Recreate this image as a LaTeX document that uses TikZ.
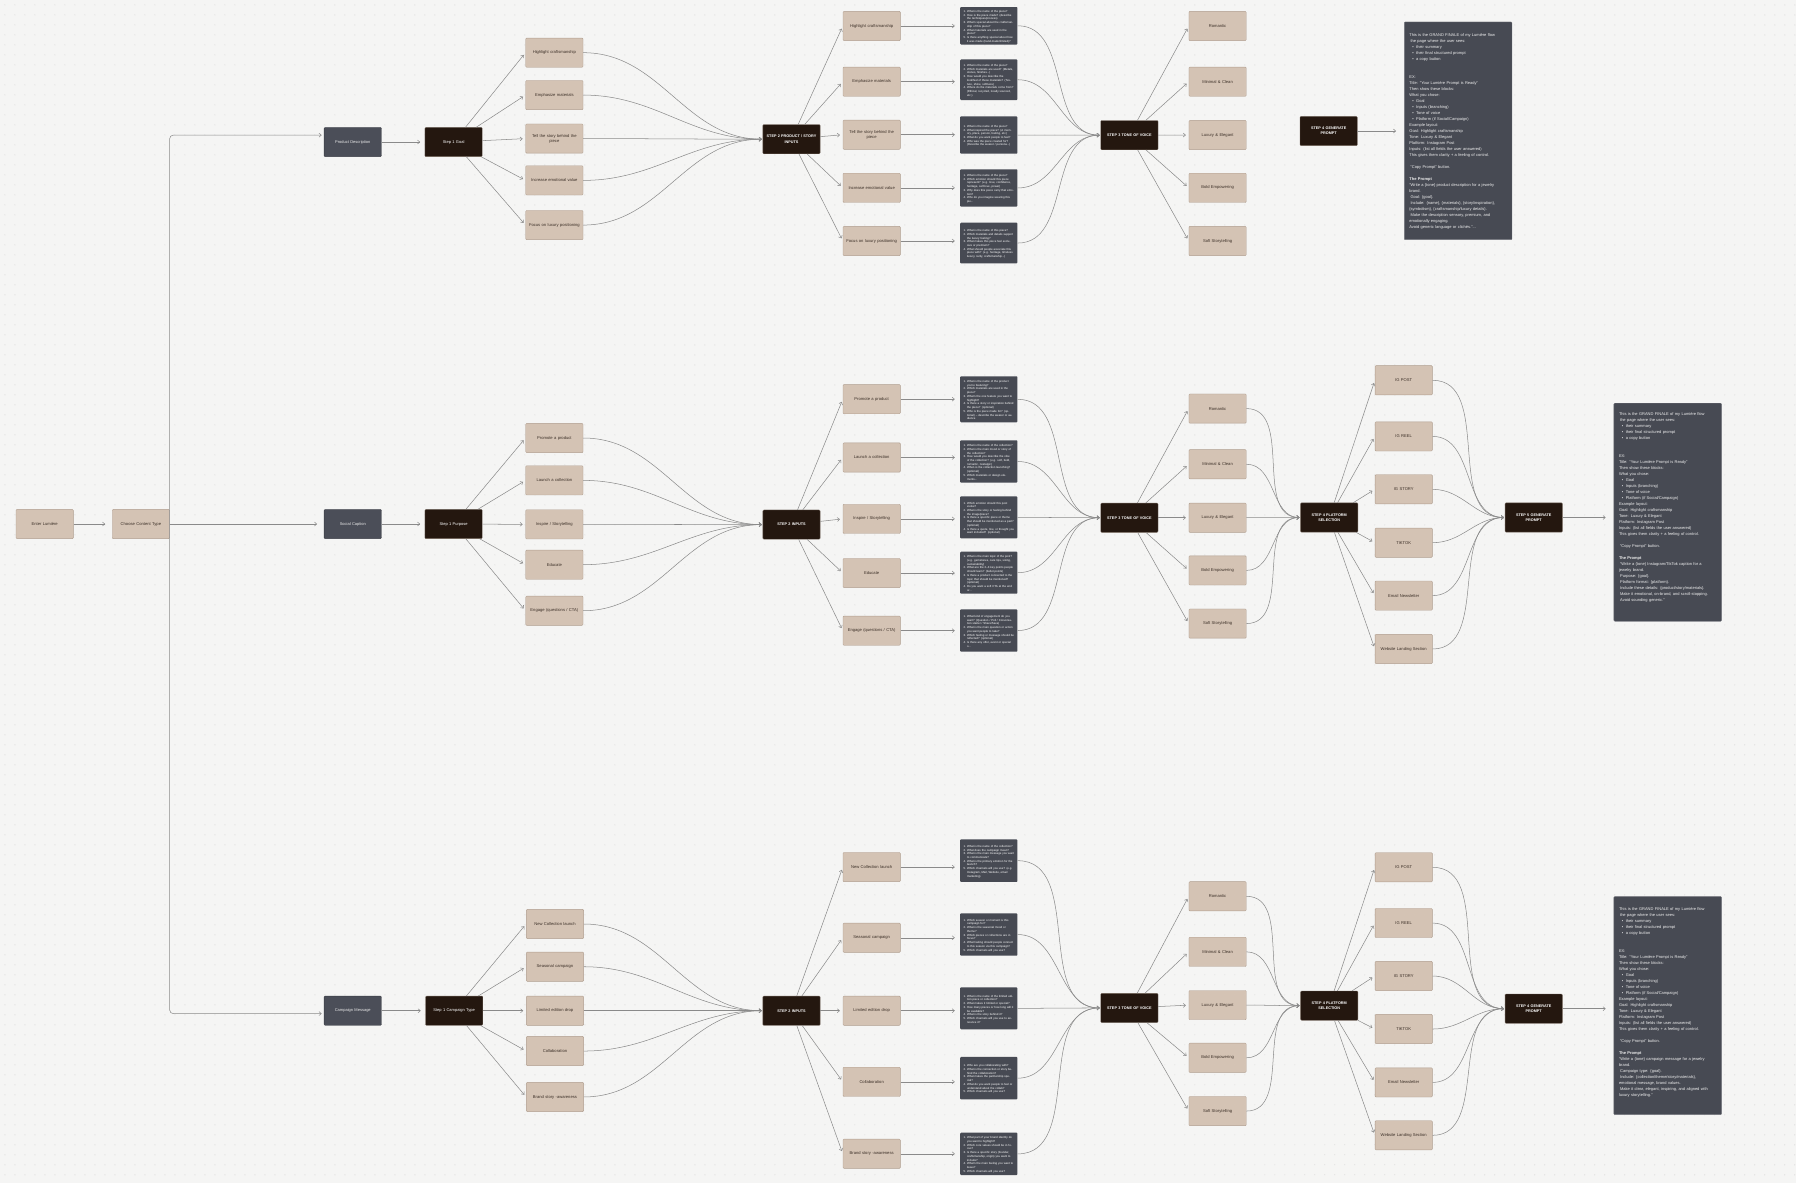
\documentclass[tikz,border=0pt]{standalone}
\usepackage{fontspec}
\setmainfont{Liberation Sans}
\usetikzlibrary{arrows.meta}
\definecolor{bg}{HTML}{F5F5F4}
\definecolor{dotc}{HTML}{C8C8C8}
\definecolor{tanf}{HTML}{D4C3B4}
\definecolor{tanb}{HTML}{B09E8F}
\definecolor{tant}{HTML}{3A2E26}
\definecolor{brownf}{HTML}{24170F}
\definecolor{slatef}{HTML}{4B4E58}
\definecolor{qf}{HTML}{474A53}
\definecolor{lineg}{HTML}{8A8A8A}
\newcommand{\qi}[2]{\par\noindent\hangindent=3pt\hangafter=1\makebox[3pt][l]{#1}#2\par}
\newcommand{\bul}{\hspace*{2.5pt}•\hspace{2.2pt}}
\newcommand{\finalehead}{This is the GRAND FINALE of my Lumière flow\\
\hspace*{1pt}the page where the user sees:\\
\bul their summary\\
\bul their final structured prompt\\
\bul a copy button\\[10.48pt]
EX:\\
Title: “Your Lumière Prompt is Ready”\\
Then show these blocks:\\
What you chose:\\
\bul Goal\\
\bul Inputs (branching)\\
\bul Tone of voice\\
\bul Platform (if Social/Campaign)\\
Example layout:\\
Goal: Highlight craftsmanship\\
Tone: Luxury \& Elegant\\
Platform: Instagram Post\\
Inputs: (list all fields the user answered)\\
This gives them clarity + a feeling of control.\\[5.24pt]
\hspace*{1pt}“Copy Prompt” button.\\[5.24pt]
\textbf{The Prompt}\\}
\tikzset{
 base/.style={rectangle, rounded corners=0.8pt, minimum width=50pt, minimum height=25.5pt, inner sep=1pt, align=center, text width=48pt},
 tanbox/.style={base, fill=tanf, draw=tanb, line width=0.35pt, text=tant, font=\fontsize{3.6}{4.4}\selectfont},
 darkbox/.style={base, fill=brownf, draw=tanf!45!brownf, line width=0.3pt, text=white, font=\fontsize{3.5}{4.3}\selectfont},
 stepbox/.style={darkbox, font=\bfseries\fontsize{3.3}{4.4}\selectfont},
 slatebox/.style={base, fill=slatef, draw=slatef!80!black, line width=0.3pt, text=white!92!black, font=\fontsize{3.5}{4.3}\selectfont},
 qbox/.style={rectangle, rounded corners=0.8pt, fill=qf, text=white, minimum width=50pt, text width=44pt, inner xsep=3pt, inner ysep=1.5pt, align=left, font=\fontsize{2.5}{3.25}\selectfont},
 bigbox/.style={rectangle, rounded corners=0.8pt, fill=qf, draw=qf!80!white, line width=0.3pt, minimum width=94pt, inner sep=0pt},
 bigtext/.style={anchor=north west, inner sep=0pt, text width=90pt, align=left, text=white!94!black, font=\fontsize{3.5}{5.24}\selectfont},
 arr/.style={draw=lineg, line width=0.45pt, -{Straight Barb[length=2pt,width=3.4pt]}, shorten >=2pt},
 carr/.style={arr, shorten >=0.8pt},
}
\begin{document}
\begin{tikzpicture}[x=1pt,y=-1pt]
\useasboundingbox (0,0) rectangle (1568,1033);
\fill[bg] (0,0) rectangle (1568,1033);
\foreach \j in {0,...,118}
  \draw[dotc, line width=0.85pt, line cap=round, dash pattern=on 0pt off 8.73pt] (4.3,{4.3+\j*8.73}) -- (1568,{4.3+\j*8.73});

% ---------------- left column ----------------
\node[tanbox] (enter) at (39,457.5) {Enter Lumière};
\node[tanbox] (cct) at (123,457.5) {Choose Content Type};
\node[slatebox] (pd) at (308,124) {Product Description};
\node[slatebox] (sc) at (308,457.5) {Social Caption};
\node[slatebox] (cm) at (308,882.4) {Campaign Message};
\draw[arr, shorten >=6pt] (enter) -- (cct);
\draw[arr, shorten >=6pt] (cct.east) -- (sc.west);
\draw[arr, rounded corners=3pt, shorten >=2pt] (cct.east) |- ([yshift=6pt]pd.west);
\draw[arr, rounded corners=3pt, shorten >=2pt] (cct.east) |- ([yshift=-2.5pt]cm.west);

% ================= ROW 1 =================
\node[darkbox] (g1) at (396,124) {Step 1 Goal};
\draw[arr, shorten >=4pt] (pd) -- (g1);
\node[tanbox] (a1) at (484,46) {Highlight craftsmanship};
\node[tanbox] (a2) at (484,83) {Emphasize materials};
\node[tanbox] (a3) at (484,121) {Tell the story behind the\\piece};
\node[tanbox] (a4) at (484,157.5) {Increase emotional value};
\node[tanbox] (a5) at (484,196.5) {Focus on luxury positioning};
\node[stepbox] (s2a) at (691,121.5) {STEP 2 PRODUCT / STORY\\INPUTS};
\foreach \n in {a1,a2,a3,a4,a5} {
  \draw[arr, shorten >=2.5pt] (g1) -- (\n.west);
  \draw[carr] (\n.east) to[out=0,in=180] (s2a.west);
}
\node[tanbox] (b1) at (761,22.7) {Highlight craftsmanship};
\node[tanbox] (b2) at (761,71.3) {Emphasize materials};
\node[tanbox] (b3) at (761,117.6) {Tell the story behind the\\piece};
\node[tanbox] (b4) at (761,164) {Increase emotional value};
\node[tanbox] (b5) at (761,210.4) {Focus on luxury positioning};
\node[qbox, minimum height=32.3pt] (qa1) at (863.3,22.5) {%
\qi{1.}{What is the name of the piece?}
\qi{2.}{How is the piece made? (describe the techniques/process)}
\qi{3.}{What's special about the craftsmanship of this piece?}
\qi{4.}{What materials are used in the piece?}
\qi{5.}{Is there anything special about how it was made (hand-made/limited)?}};
\node[qbox, minimum height=35.5pt] (qa2) at (863.3,69.6) {%
\qi{1.}{What is the name of the piece?}
\qi{2.}{Which materials are used? (Metals, stones, finishes...)}
\qi{3.}{How would you describe the look/feel of these materials? (Texture, shine, softness)}
\qi{4.}{Where do the materials come from? (Ethical, recycled, locally sourced, etc.)}};
\node[qbox, minimum height=32.6pt] (qa3) at (863.3,117.9) {%
\qi{1.}{What is the name of the piece?}
\qi{2.}{What inspired the piece? (A memory, place, person, feeling, etc.)}
\qi{3.}{What do you want people to feel?}
\qi{4.}{Who was the piece created for? (Describe the wearer / persona...)}};
\node[qbox, minimum height=32.6pt] (qa4) at (863.3,164.1) {%
\qi{1.}{What is the name of the piece?}
\qi{2.}{Which emotion should this piece represent? (e.g. love, confidence, heritage, self-love, power)}
\qi{3.}{Why does this piece carry that emotion?}
\qi{4.}{Who do you imagine wearing this pie...}};
\node[qbox, minimum height=35.5pt] (qa5) at (863.3,212.2) {%
\qi{1.}{What is the name of this piece?}
\qi{2.}{Which materials and details support the luxury feeling?}
\qi{3.}{What makes this piece feel exclusive or premium?}
\qi{4.}{What should people associate this piece with? (e.g. heritage, timeless luxury, rarity, craftsmanship...)}};
\node[stepbox] (s3a) at (986,118) {STEP 3 TONE OF VOICE};
\foreach \b/\q in {b1/qa1,b2/qa2,b3/qa3,b4/qa4,b5/qa5} {
  \draw[arr, shorten >=2.5pt] (s2a) -- (\b.west);
  \draw[arr, shorten >=4.5pt] (\b.east) -- (\b.east -| \q.west);
  \draw[carr] (\q.east) to[out=0,in=180] (s3a.west);
}
\node[tanbox] (ta1) at (1063,22.7) {Romantic};
\node[tanbox] (ta2) at (1063,71.3) {Minimal \& Clean};
\node[tanbox] (ta3) at (1063,117.9) {Luxury \& Elegant};
\node[tanbox] (ta4) at (1063,164) {Bold Empowering};
\node[tanbox] (ta5) at (1063,210.4) {Soft Storytelling};
\foreach \n in {ta1,ta2,ta3,ta4,ta5}
  \draw[arr, shorten >=2.5pt] (s3a) -- (\n.west);
\node[stepbox] (s4a) at (1160,114.4) {STEP 4 GENERATE\\PROMPT};
\node[bigbox, minimum height=190.1pt] (fa) at (1273,114.25) {};
\draw[arr, shorten >=7pt] (s4a) -- (fa.west |- s4a.east);
\node[bigtext] (fat) at ([xshift=4.4pt,yshift=-9.8pt]fa.north west) {\finalehead
“Write a \{tone\} product description for a jewelry\\
brand.\\
\hspace*{1pt}Goal: \{goal\}.\\
\hspace*{1pt}Include: \{name\}, \{materials\}, \{story/inspiration\},\\
\{symbolism\}, \{craftsmanship/luxury details\}.\\
\hspace*{1pt}Make the description sensory, premium, and\\
emotionally engaging.\\
Avoid generic language or clichés.”...};

% ================= ROW 2 =================
\node[darkbox] (p1) at (396,457.5) {Step 1 Purpose};
\draw[arr, shorten >=4pt] (sc) -- (p1);
\node[tanbox] (c1) at (484,382.4) {Promote a product};
\node[tanbox] (c2) at (484,419.4) {Launch a collection};
\node[tanbox] (c3) at (484,457.8) {Inspire / Storytelling};
\node[tanbox] (c4) at (484,493) {Educate};
\node[tanbox] (c5) at (484,533.2) {Engage (questions / CTA)};
\node[stepbox] (s2b) at (691,458) {STEP 2 INPUTS};
\foreach \n in {c1,c2,c3,c4,c5} {
  \draw[arr, shorten >=2.5pt] (p1) -- (\n.west);
  \draw[carr] (\n.east) to[out=0,in=180] (s2b.west);
}
\node[tanbox] (d1) at (761,348.5) {Promote a product};
\node[tanbox] (d2) at (761,399.4) {Launch a collection};
\node[tanbox] (d3) at (761,453) {Inspire / Storytelling};
\node[tanbox] (d4) at (761,500.3) {Educate};
\node[tanbox] (d5) at (761,550.6) {Engage (questions / CTA)};
\node[qbox, minimum height=40.2pt] (qb1) at (863.3,348.6) {%
\qi{1.}{What is the name of the product you're featuring?}
\qi{2.}{Which materials are used in the piece?}
\qi{3.}{What's the one feature you want to highlight?}
\qi{4.}{Is there a story or inspiration behind the piece? (optional)}
\qi{5.}{Who is the piece made for? (optional) – describe the wearer or audience}};
\node[qbox, minimum height=37pt] (qb2) at (863.3,402.9) {%
\qi{1.}{What is the name of the collection?}
\qi{2.}{What is the main mood or story of the collection?}
\qi{3.}{How would you describe the vibe of the collection? (e.g. soft, bold, romantic, nostalgic)}
\qi{4.}{When is the collection launching? (optional)}
\qi{5.}{Which materials or design elements...}};
\node[qbox, minimum height=36.7pt] (qb3) at (863.3,451.7) {%
\qi{1.}{Which emotion should this post evoke?}
\qi{2.}{What is the story or feeling behind the image/piece?}
\qi{3.}{Is there a specific piece or theme that should be mentioned as a part? (optional)}
\qi{4.}{Is there a quote, line, or thought you want included? (optional)}};
\node[qbox, minimum height=36.7pt] (qb4) at (863.3,500) {%
\qi{1.}{What is the main topic of the post? (e.g. gemstones, care tips, sizing, sustainability)}
\qi{2.}{What are the 2–3 key points people should learn? (bullet points)}
\qi{3.}{Is there a product connected to the topic that should be mentioned? (optional)}
\qi{4.}{Do you want a soft CTA at the end or...}};
\node[qbox, minimum height=37pt] (qb5) at (863.3,550.5) {%
\qi{1.}{What kind of engagement do you want? (Question / Poll / Conversation starter / Share/Save)}
\qi{2.}{What is the main question or action you want people to take?}
\qi{3.}{Which feeling or message should be reflected? (optional)}
\qi{4.}{Is there any offer, event or special o...}};
\node[stepbox] (s3b) at (986,452) {STEP 3 TONE OF VOICE};
\foreach \b/\q in {d1/qb1,d2/qb2,d3/qb3,d4/qb4,d5/qb5} {
  \draw[arr, shorten >=2.5pt] (s2b) -- (\b.west);
  \draw[arr, shorten >=4.5pt] (\b.east) -- (\b.east -| \q.west);
  \draw[carr] (\q.east) to[out=0,in=180] (s3b.west);
}
\node[tanbox] (tb1) at (1063,356.7) {Romantic};
\node[tanbox] (tb2) at (1063,405.3) {Minimal \& Clean};
\node[tanbox] (tb3) at (1063,452) {Luxury \& Elegant};
\node[tanbox] (tb4) at (1063,498) {Bold Empowering};
\node[tanbox] (tb5) at (1063,544.4) {Soft Storytelling};
\node[stepbox] (s4b) at (1160.5,451.8) {STEP 4 PLATFORM\\SELECTION};
\foreach \n in {tb1,tb2,tb3,tb4,tb5} {
  \draw[arr, shorten >=2.5pt] (s3b) -- (\n.west);
  \draw[carr] (\n.east) to[out=0,in=180] (s4b.west);
}
\node[tanbox] (pb1) at (1225.5,332) {IG POST};
\node[tanbox] (pb2) at (1225.5,381) {IG REEL};
\node[tanbox] (pb3) at (1225.5,427.2) {IG STORY};
\node[tanbox] (pb4) at (1225.5,473.8) {TIKTOK};
\node[tanbox] (pb5) at (1225.5,520) {Email Newsletter};
\node[tanbox] (pb6) at (1225.5,566.6) {Website Landing Section};
\node[stepbox] (s5b) at (1339,451.8) {STEP 5 GENERATE\\PROMPT};
\foreach \n in {pb1,pb2,pb3,pb4,pb5,pb6} {
  \draw[arr, shorten >=2.5pt] (s4b) -- (\n.west);
  \draw[carr] (\n.east) to[out=0,in=180] (s5b.west);
}
\node[bigbox, minimum height=190.4pt] (fb) at (1456,447.2) {};
\draw[arr, shorten >=7pt] (s5b) -- (fb.west |- s5b.east);
\node[bigtext] (fbt) at ([xshift=4.4pt,yshift=-7.8pt]fb.north west) {\finalehead
\hspace*{1pt}“Write a \{tone\} Instagram/TikTok caption for a\\
jewelry brand.\\
\hspace*{1pt}Purpose: \{goal\}.\\
\hspace*{1pt}Platform format: \{platform\}.\\
\hspace*{1pt}Include these details: \{product/story/materials\}.\\
\hspace*{1pt}Make it emotional, on-brand, and scroll-stopping.\\
\hspace*{1pt}Avoid sounding generic.”};

% ================= ROW 3 =================
\node[darkbox] (ct) at (396.5,882.4) {Step 1 Campaign Type};
\draw[arr, shorten >=4pt] (cm) -- (ct);
\node[tanbox] (e1) at (484.5,806.7) {New Collection launch};
\node[tanbox] (e2) at (484.5,844) {Seasonal campaign};
\node[tanbox] (e3) at (484.5,882.4) {Limited edition drop};
\node[tanbox] (e4) at (484.5,917.6) {Collaboration};
\node[tanbox] (e5) at (484.5,957.7) {Brand story -awareness};
\node[stepbox] (s2c) at (691,882.4) {STEP 2 INPUTS};
\foreach \n in {e1,e2,e3,e4,e5} {
  \draw[arr, shorten >=2.5pt] (ct) -- (\n.west);
  \draw[carr] (\n.east) to[out=0,in=180] (s2c.west);
}
\node[tanbox] (f1) at (761,757) {New Collection launch};
\node[tanbox] (f2) at (761,818.7) {Seasonal campaign};
\node[tanbox] (f3) at (761,882.4) {Limited edition drop};
\node[tanbox] (f4) at (761,944.5) {Collaboration};
\node[tanbox] (f5) at (761,1007.3) {Brand story -awareness};
\node[qbox, minimum height=37.2pt] (qc1) at (863.3,751.4) {%
\qi{1.}{What is the name of the collection?}
\qi{2.}{What does the campaign mean?}
\qi{3.}{What is the main message you want to communicate?}
\qi{4.}{What is the primary emotion for the launch?}
\qi{5.}{Which channels will you use? (e.g. Instagram, Mail, Website, email marketing)}};
\node[qbox, minimum height=37pt] (qc2) at (863.3,815.9) {%
\qi{1.}{Which season or moment is this campaign for?}
\qi{2.}{What is the seasonal mood or theme?}
\qi{3.}{Which pieces or collections are in focus?}
\qi{4.}{What feeling should people connect to this season via this campaign?}
\qi{5.}{Which channels will you use?}};
\node[qbox, minimum height=36.6pt] (qc3) at (863.3,880.3) {%
\qi{1.}{What is the name of the limited edition piece or collection?}
\qi{2.}{What makes it limited or special?}
\qi{3.}{How many pieces or how long will it be available?}
\qi{4.}{What is the story behind it?}
\qi{5.}{Which channels will you use to announce it?}};
\node[qbox, minimum height=37pt] (qc4) at (863.3,941.3) {%
\qi{1.}{Who are you collaborating with?}
\qi{2.}{What is the connection or story behind the collaboration?}
\qi{3.}{What makes the partnership special?}
\qi{4.}{What do you want people to feel or understand about the collab?}
\qi{5.}{Which channels will you use?}};
\node[qbox, minimum height=37pt] (qc5) at (863.3,1007.4) {%
\qi{1.}{What part of your brand identity do you want to highlight?}
\qi{2.}{Which core values should be in focus?}
\qi{3.}{Is there a specific story (founder, craftsmanship, origin) you want to include?}
\qi{4.}{What's the main feeling you want to leave?}
\qi{5.}{Which channels will you use?}};
\node[stepbox] (s3c) at (986,880) {STEP 3 TONE OF VOICE};
\foreach \b/\q in {f1/qc1,f2/qc2,f3/qc3,f4/qc4,f5/qc5} {
  \draw[arr, shorten >=2.5pt] (s2c) -- (\b.west);
  \draw[arr, shorten >=4.5pt] (\b.east) -- (\b.east -| \q.west);
  \draw[carr] (\q.east) to[out=0,in=180] (s3c.west);
}
\node[tanbox] (tc1) at (1063,782.5) {Romantic};
\node[tanbox] (tc2) at (1063,831) {Minimal \& Clean};
\node[tanbox] (tc3) at (1063,877.5) {Luxury \& Elegant};
\node[tanbox] (tc4) at (1063,923.5) {Bold Empowering};
\node[tanbox] (tc5) at (1063,970) {Soft Storytelling};
\node[stepbox] (s4c) at (1160.5,878) {STEP 4 PLATFORM\\SELECTION};
\foreach \n in {tc1,tc2,tc3,tc4,tc5} {
  \draw[arr, shorten >=2.5pt] (s3c) -- (\n.west);
  \draw[carr] (\n.east) to[out=0,in=180] (s4c.west);
}
\node[tanbox] (pc1) at (1225.5,757.2) {IG POST};
\node[tanbox] (pc2) at (1225.5,805.9) {IG REEL};
\node[tanbox] (pc3) at (1225.5,852.1) {IG STORY};
\node[tanbox] (pc4) at (1225.5,898.4) {TIKTOK};
\node[tanbox] (pc5) at (1225.5,945) {Email Newsletter};
\node[tanbox] (pc6) at (1225.5,991.2) {Website Landing Section};
\node[stepbox] (s4g) at (1339,880.6) {STEP 4 GENERATE\\PROMPT};
\foreach \n in {pc1,pc2,pc3,pc4,pc5,pc6} {
  \draw[arr, shorten >=2.5pt] (s4c) -- (\n.west);
  \draw[carr] (\n.east) to[out=0,in=180] (s4g.west);
}
\node[bigbox, minimum height=190.4pt] (fc) at (1456,878) {};
\draw[arr, shorten >=7pt] (s4g) -- (fc.west |- s4g.east);
\node[bigtext] (fct) at ([xshift=4.4pt,yshift=-9.8pt]fc.north west) {\finalehead
“Write a \{tone\} campaign message for a jewelry\\
brand.\\
\hspace*{1pt}Campaign type: \{goal\}.\\
\hspace*{1pt}Include: \{collection/theme/story/materials\},\\
emotional message, brand values.\\
\hspace*{1pt}Make it clear, elegant, inspiring, and aligned with\\
luxury storytelling.”};
\end{tikzpicture}
\end{document}
